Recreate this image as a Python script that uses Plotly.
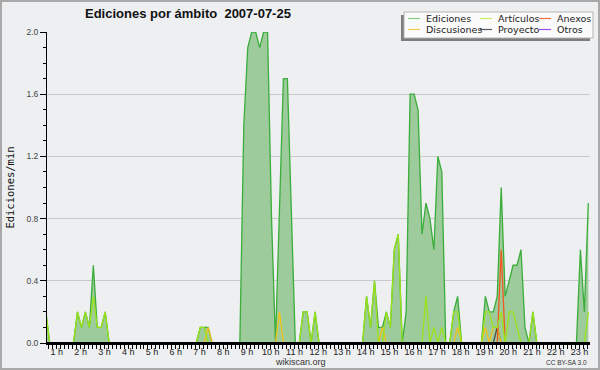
import plotly.graph_objects as go

# ---- data: edits per minute, 10-minute samples starting at 00:32 ----
start_hour = 0.535
step_hour = 1 / 6

ediciones = [
    0.2, 0, 0, 0, 0, 0, 0, 0, 0.2, 0.1,
    0.2, 0.1, 0.5, 0.1, 0.1, 0.2, 0, 0, 0, 0,
    0, 0, 0, 0, 0, 0, 0, 0, 0, 0,
    0, 0, 0, 0, 0, 0, 0, 0, 0, 0.1,
    0.1, 0.1, 0, 0, 0, 0, 0, 0, 0, 0,
    1.4, 1.9, 2.0, 2.0, 1.9, 2.0, 2.0, 0.8, 0, 0.9,
    1.7, 1.7, 0.8, 0, 0, 0.2, 0.2, 0, 0.2, 0,
    0, 0, 0, 0, 0, 0, 0, 0, 0, 0,
    0, 0.3, 0.1, 0.4, 0.1, 0.1, 0.2, 0.1, 0.6, 0.7,
    0, 0.2, 1.6, 1.6, 1.5, 0.7, 0.9, 0.8, 0.6, 1.2,
    1.1, 0, 0, 0.2, 0.3, 0, 0, 0, 0, 0,
    0, 0.3, 0.2, 0.2, 0.3, 1.0, 0.3, 0.4, 0.5, 0.5,
    0.6, 0.1, 0, 0.2, 0, 0, 0, 0, 0, 0,
    0, 0, 0, 0, 0, 0.6, 0.2, 0.9,
]
articulos = [
    0.2, 0, 0, 0, 0, 0, 0, 0, 0.2, 0.1,
    0.2, 0.1, 0.3, 0.1, 0.1, 0.2, 0, 0, 0, 0,
    0, 0, 0, 0, 0, 0, 0, 0, 0, 0,
    0, 0, 0, 0, 0, 0, 0, 0, 0, 0.1,
    0.1, 0, 0, 0, 0, 0, 0, 0, 0, 0,
    0, 0, 0, 0, 0, 0, 0, 0, 0, 0,
    0, 0, 0, 0, 0, 0.2, 0.2, 0, 0.2, 0,
    0, 0, 0, 0, 0, 0, 0, 0, 0, 0,
    0, 0.3, 0.1, 0.4, 0, 0, 0.2, 0.1, 0.6, 0.7,
    0, 0, 0, 0, 0, 0, 0.3, 0, 0.1, 0,
    0.1, 0, 0, 0.2, 0.2, 0, 0, 0, 0, 0,
    0, 0.2, 0.2, 0.1, 0.1, 0.2, 0, 0.2, 0.2, 0.1,
    0, 0, 0, 0.2, 0, 0, 0, 0, 0, 0,
    0, 0, 0, 0, 0, 0, 0, 0.2,
]
discusiones = [
    0, 0, 0, 0, 0, 0, 0, 0, 0, 0,
    0, 0, 0, 0, 0, 0, 0, 0, 0, 0,
    0, 0, 0, 0, 0, 0, 0, 0, 0, 0,
    0, 0, 0, 0, 0, 0, 0, 0, 0, 0,
    0, 0.1, 0, 0, 0, 0, 0, 0, 0, 0,
    0, 0, 0, 0, 0, 0, 0, 0, 0, 0.2,
    0, 0, 0, 0, 0, 0, 0, 0, 0, 0,
    0, 0, 0, 0, 0, 0, 0, 0, 0, 0,
    0, 0, 0, 0, 0, 0.1, 0, 0, 0, 0,
    0, 0, 0, 0, 0, 0, 0, 0, 0, 0,
    0, 0, 0, 0, 0.1, 0, 0, 0, 0, 0,
    0, 0.1, 0, 0.1, 0.1, 0, 0, 0, 0, 0,
    0, 0, 0, 0, 0, 0, 0, 0, 0, 0,
    0, 0, 0, 0, 0, 0, 0, 0,
]
anexos = [
    0, 0, 0, 0, 0, 0, 0, 0, 0, 0,
    0, 0, 0, 0, 0, 0, 0, 0, 0, 0,
    0, 0, 0, 0, 0, 0, 0, 0, 0, 0,
    0, 0, 0, 0, 0, 0, 0, 0, 0, 0,
    0, 0, 0, 0, 0, 0, 0, 0, 0, 0,
    0, 0, 0, 0, 0, 0, 0, 0, 0, 0,
    0, 0, 0, 0, 0, 0, 0, 0, 0, 0,
    0, 0, 0, 0, 0, 0, 0, 0, 0, 0,
    0, 0, 0, 0, 0, 0, 0, 0, 0, 0,
    0, 0, 0, 0, 0, 0, 0, 0, 0, 0,
    0, 0, 0, 0, 0, 0, 0, 0, 0, 0,
    0, 0, 0, 0, 0, 0.6, 0, 0, 0, 0,
    0, 0, 0, 0, 0, 0, 0, 0, 0, 0,
    0, 0, 0, 0, 0, 0, 0, 0,
]
proyecto = [
    0, 0, 0, 0, 0, 0, 0, 0, 0, 0,
    0, 0, 0, 0, 0, 0, 0, 0, 0, 0,
    0, 0, 0, 0, 0, 0, 0, 0, 0, 0,
    0, 0, 0, 0, 0, 0, 0, 0, 0, 0,
    0, 0, 0, 0, 0, 0, 0, 0, 0, 0,
    0, 0, 0, 0, 0, 0, 0, 0, 0, 0,
    0, 0, 0, 0, 0, 0, 0, 0, 0, 0,
    0, 0, 0, 0, 0, 0, 0, 0, 0, 0,
    0, 0, 0, 0, 0, 0, 0, 0, 0, 0,
    0, 0, 0, 0, 0, 0, 0, 0, 0, 0,
    0, 0, 0, 0, 0, 0, 0, 0, 0, 0,
    0, 0, 0, 0, 0.1, 0, 0, 0, 0, 0,
    0, 0, 0, 0, 0, 0, 0, 0, 0, 0,
    0, 0, 0, 0, 0, 0, 0, 0,
]
otros = [
    0, 0, 0, 0, 0, 0, 0, 0, 0, 0,
    0, 0, 0, 0, 0, 0, 0, 0, 0, 0,
    0, 0, 0, 0, 0, 0, 0, 0, 0, 0,
    0, 0, 0, 0, 0, 0, 0, 0, 0, 0,
    0, 0, 0, 0, 0, 0, 0, 0, 0, 0,
    0, 0, 0, 0, 0, 0, 0, 0, 0, 0,
    0, 0, 0, 0, 0, 0, 0, 0, 0, 0,
    0, 0, 0, 0, 0, 0, 0, 0, 0, 0,
    0, 0, 0, 0, 0, 0, 0, 0, 0, 0,
    0, 0, 0, 0, 0, 0, 0, 0, 0, 0,
    0, 0, 0, 0, 0, 0, 0, 0, 0, 0,
    0, 0, 0, 0, 0, 0, 0, 0, 0, 0,
    0, 0, 0, 0, 0, 0, 0, 0, 0, 0,
    0, 0, 0, 0, 0, 0, 0, 0,
]

hour_ticks = list(range(1, 24))
hour_labels = [f"{h} h" for h in hour_ticks]
y_ticks = [0.0, 0.4, 0.8, 1.2, 1.6, 2.0]
y_labels = ["0.0", "0.4", "0.8", "1.2", "1.6", "2.0"]

series_colors = {
    "Ediciones": "#3aad3a",
    "Artículos": "#9be21a",
    "Anexos": "#f05a1e",
    "Discusiones": "#f2c21c",
    "Proyecto": "#4e4a44",
    "Otros": "#9a3ff0",
}
legend_colors = {
    "Ediciones": "#80d080",
    "Artículos": "#c6ee5a",
    "Anexos": "#ee7040",
    "Discusiones": "#f5cc50",
    "Proyecto": "#5a5a5a",
    "Otros": "#a050ee",
}

x = [start_hour + i * step_hour for i in range(len(ediciones))]

# ---- figure geometry (pixels) ----
W, H = 600, 370
L, R, T, B = 47, 590, 32, 343
PX_PER_H = 23.76
H_AT_0 = 33.1  # pixel of hour 0


def px(X):
    return (X - L) / (R - L)


def py(Y):
    return (B - Y) / (B - T)


fig = go.Figure()
fig.add_trace(go.Scatter(
    x=x, y=ediciones, name="Ediciones", mode="lines",
    line=dict(color=series_colors["Ediciones"], width=1.3),
    fill="tozeroy", fillcolor="#9dcb9c", showlegend=False,
))
for name, vals in [("Otros", otros), ("Proyecto", proyecto), ("Discusiones", discusiones),
                   ("Anexos", anexos), ("Artículos", articulos)]:
    fig.add_trace(go.Scatter(
        x=x, y=vals, name=name, mode="lines",
        line=dict(color=series_colors[name], width=1.3), showlegend=False,
    ))

shapes = []
annotations = []

# outer frame
shapes.append(dict(type="rect", xref="paper", yref="paper",
                   x0=px(1), x1=px(599), y0=py(1), y1=py(369),
                   line=dict(color="#a9a9a9", width=2), fillcolor="rgba(0,0,0,0)", layer="above"))
# black baseline drawn over the zero-valued series
shapes.append(dict(type="line", xref="paper", yref="paper", x0=0, x1=1, y0=0, y1=0,
                   line=dict(color="black", width=2), layer="above"))

# legend box with shadow
shapes.append(dict(type="rect", xref="paper", yref="paper",
                   x0=px(401), x1=px(590), y0=py(15), y1=py(41),
                   line=dict(width=0), fillcolor="#7d7d7d", layer="above"))
shapes.append(dict(type="rect", xref="paper", yref="paper",
                   x0=px(404), x1=px(593), y0=py(12), y1=py(38),
                   line=dict(color="#b4b4b4", width=1), fillcolor="#fbfbfb", layer="above"))
legend_layout = [
    ("Ediciones", 408, 424, 18.5), ("Artículos", 480, 496, 18.5), ("Anexos", 539, 555, 18.5),
    ("Discusiones", 408, 424, 29.5), ("Proyecto", 480, 496, 29.5), ("Otros", 539, 555, 29.5),
]
for name, lx, tx, ly in legend_layout:
    shapes.append(dict(type="line", xref="paper", yref="paper",
                       x0=px(lx), x1=px(lx + 12), y0=py(ly), y1=py(ly),
                       line=dict(color=legend_colors[name], width=1.2), layer="above"))
    annotations.append(dict(xref="paper", yref="paper", x=px(tx), y=py(ly), text=name,
                            showarrow=False, xanchor="left", yanchor="middle",
                            font=dict(family="DejaVu Sans", size=9.5, color="#1a1a1a")))

# title
annotations.append(dict(xref="paper", yref="paper", x=px(188), y=py(14),
                        text="<b>Ediciones por ámbito\u00a0\u00a02007-07-25</b>",
                        showarrow=False, xanchor="center", yanchor="middle",
                        font=dict(family="Liberation Sans", size=13, color="#111111")))
# footer
annotations.append(dict(xref="paper", yref="paper", x=px(300), y=py(362), text="wikiscan.org",
                        showarrow=False, xanchor="center", yanchor="middle",
                        font=dict(family="Liberation Sans", size=9, color="#333333")))
annotations.append(dict(xref="paper", yref="paper", x=px(589), y=py(362.5), text="CC BY-SA 3.0",
                        showarrow=False, xanchor="right", yanchor="middle",
                        font=dict(family="Liberation Sans", size=6.5, color="#333333")))

x_lo = (L - H_AT_0) / PX_PER_H
x_hi = (R - H_AT_0) / PX_PER_H

fig.update_layout(
    width=W, height=H, autosize=False,
    margin=dict(l=L, r=W - R, t=T, b=H - B, pad=0, autoexpand=False),
    paper_bgcolor="#eeeff1", plot_bgcolor="#eeeff1",
    shapes=shapes, annotations=annotations,
    showlegend=False,
    xaxis=dict(
        range=[x_lo, x_hi], tickmode="array", tickvals=hour_ticks, ticktext=hour_labels,
        showgrid=False, zeroline=False, showline=True, linecolor="black", linewidth=2,
        ticks="outside", ticklen=4, tickcolor="black", tickwidth=1,
        ticklabelstandoff=-5,
        tickfont=dict(family="Liberation Sans", size=9, color="#222222"),
        minor=dict(tickmode="linear", tick0=0, dtick=1 / 6, ticks="outside",
                   ticklen=4, tickcolor="black", tickwidth=1),
        automargin=False, fixedrange=True,
    ),
    yaxis=dict(
        range=[0, 2.0], tickmode="array", tickvals=y_ticks, ticktext=y_labels,
        showgrid=True, gridcolor="#c9c9c9", gridwidth=1, zeroline=False,
        showline=True, linecolor="black", linewidth=1,
        ticks="outside", ticklen=6, tickcolor="black", tickwidth=1,
        tickfont=dict(family="Liberation Sans", size=8.5, color="#444444"),
        minor=dict(tickmode="linear", tick0=0, dtick=0.1, ticks="outside",
                   ticklen=3, tickcolor="black", tickwidth=1),
        title=dict(text="Ediciones/min", standoff=9,
                   font=dict(family="DejaVu Sans Mono", size=10.5, color="#111111")),
        automargin=False, fixedrange=True,
    ),
)

fig.write_html(
    "out.html",
    config={"displayModeBar": False},
    post_script="document.body.style.margin='0';document.body.style.padding='0';",
)
